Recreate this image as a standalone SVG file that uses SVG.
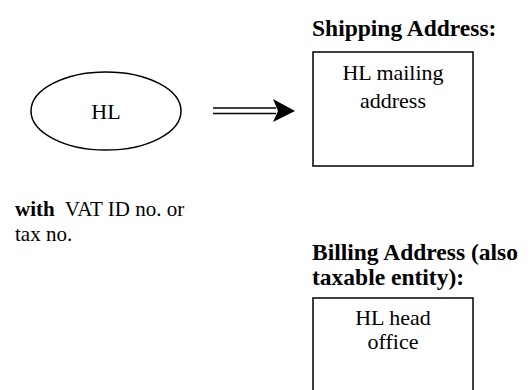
<svg xmlns="http://www.w3.org/2000/svg" width="530" height="390" viewBox="0 0 530 390">
<style>
text{font-family:"Liberation Serif","Times New Roman",serif;font-size:22px;fill:#000}
.b{font-weight:bold}
.h{font-size:23.5px}
.n{font-size:21px}
.c{text-anchor:middle}
.box{fill:#fff;stroke:#000;stroke-width:1.5}
</style>
<rect width="530" height="390" fill="#fff"/>
<g id="hl">
<ellipse class="box" cx="106" cy="111" rx="75" ry="39"/>
<text class="c" x="106" y="119">HL</text>
</g>
<g id="hl-note">
<text class="n" x="15" y="216" xml:space="preserve"><tspan class="b">with</tspan>  VAT ID no. or</text>
<text class="n" x="15" y="241">tax no.</text>
</g>
<g id="shipping">
<text class="b h" x="312" y="36">Shipping Address:</text>
<rect class="box" x="313" y="52" width="160" height="114"/>
<text class="c" x="393" y="80">HL mailing</text>
<text class="c" x="393" y="108">address</text>
</g>
<g id="billing">
<text class="b h" x="312" y="260">Billing Address (also</text>
<text class="b h" x="312" y="285">taxable entity):</text>
<rect class="box" x="313" y="298" width="160" height="110"/>
<text class="c" x="393" y="325">HL head</text>
<text class="c" x="393" y="349">office</text>
</g>
<g id="connectors">
<line x1="213" y1="108" x2="276" y2="108" stroke="#000" stroke-width="1.5"/>
<line x1="213" y1="113.5" x2="276" y2="113.5" stroke="#000" stroke-width="1.5"/>
<polygon points="273,99 295,111 273,122 278,111" fill="#000"/>
</g>
</svg>
